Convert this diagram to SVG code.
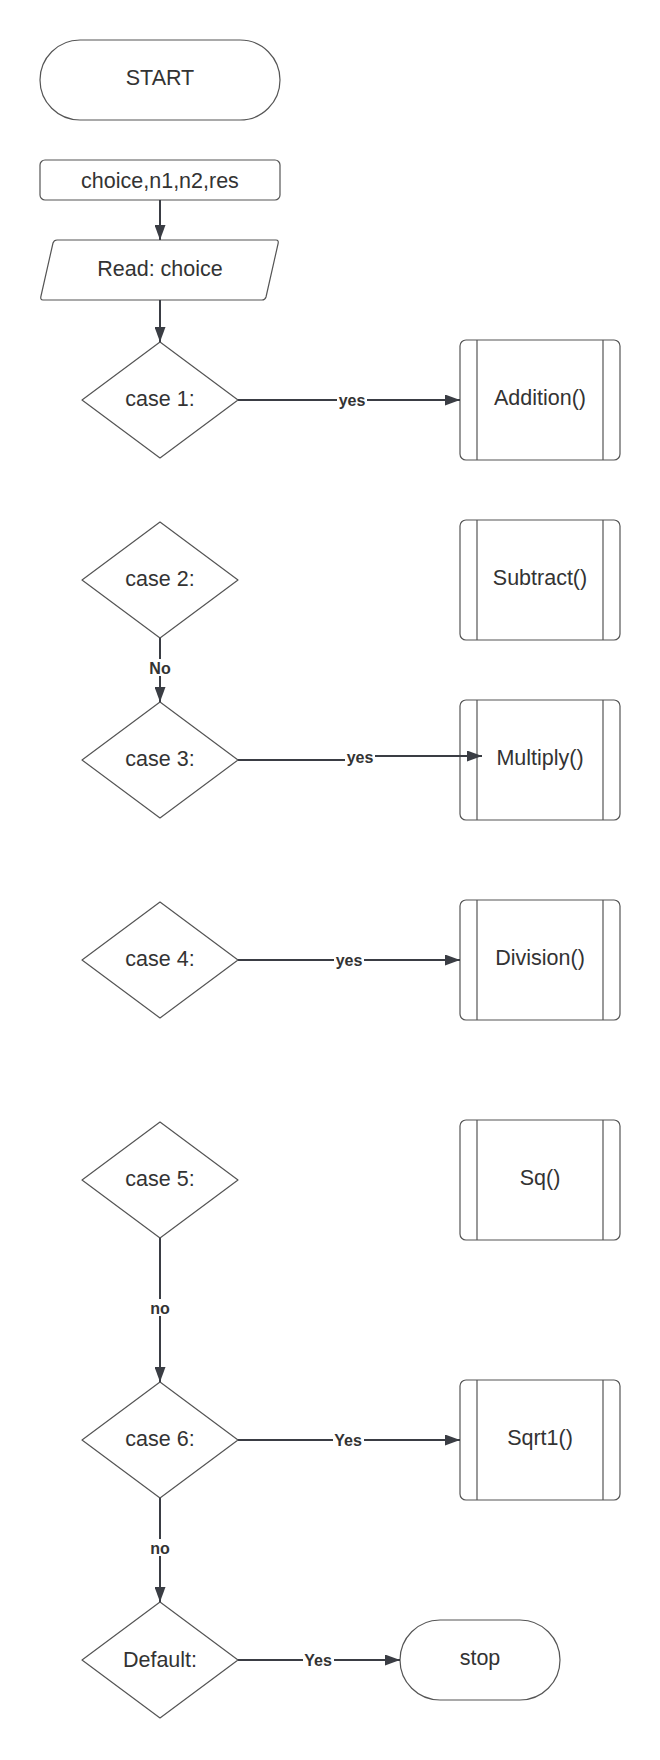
<svg xmlns="http://www.w3.org/2000/svg" width="660" height="1760" viewBox="0 0 660 1760">
<defs>
<style>
.shape{fill:#ffffff;stroke:#555555;stroke-width:1.2;stroke-linejoin:round}
.t{font-family:"Liberation Sans",Arial,sans-serif;font-size:21.5px;fill:#333333;text-anchor:middle}
.conn{fill:none;stroke:#3a3d44;stroke-width:2}
.lbl{font-family:"Liberation Sans",Arial,sans-serif;font-size:16px;font-weight:bold;fill:#333333;text-anchor:middle}
.bg{fill:#ffffff}
</style>
<marker id="arr" markerUnits="userSpaceOnUse" markerWidth="15" markerHeight="11" refX="15" refY="5.5" orient="auto">
<path d="M0,0 L15,5.5 L0,11 z" fill="#3a3d44"/>
</marker>
</defs>
<rect width="660" height="1760" fill="#ffffff"/>

<g id="start">
<rect class="shape" x="40" y="40" width="240" height="80" rx="40" ry="40"/>
<text class="t" x="160" y="85">START</text>
</g>
<g id="vars">
<rect class="shape" x="40" y="160" width="240" height="40" rx="5" ry="5"/>
<text class="t" x="160" y="188">choice,n1,n2,res</text>
</g>
<g id="read">
<path class="shape" d="M57,240 H276 Q279,240 278,244 L266,297 Q265,300 262,300 H43 Q40,300 41,296 L53,243 Q54,240 57,240 Z"/>
<text class="t" x="160" y="276">Read: choice</text>
</g>

<g id="case1">
<path class="shape" d="M160,342 L238,400 L160,458 L82,400 Z"/>
<text class="t" x="160" y="406">case 1:</text>
</g>
<g id="case2">
<path class="shape" d="M160,522 L238,580 L160,638 L82,580 Z"/>
<text class="t" x="160" y="586">case 2:</text>
</g>
<g id="case3">
<path class="shape" d="M160,702 L238,760 L160,818 L82,760 Z"/>
<text class="t" x="160" y="766">case 3:</text>
</g>
<g id="case4">
<path class="shape" d="M160,902 L238,960 L160,1018 L82,960 Z"/>
<text class="t" x="160" y="966">case 4:</text>
</g>
<g id="case5">
<path class="shape" d="M160,1122 L238,1180 L160,1238 L82,1180 Z"/>
<text class="t" x="160" y="1186">case 5:</text>
</g>
<g id="case6">
<path class="shape" d="M160,1382 L238,1440 L160,1498 L82,1440 Z"/>
<text class="t" x="160" y="1446">case 6:</text>
</g>
<g id="default">
<path class="shape" d="M160,1602 L238,1660 L160,1718 L82,1660 Z"/>
<text class="t" x="160" y="1667">Default:</text>
</g>

<g id="addition">
<rect class="shape" x="460" y="340" width="160" height="120" rx="6" ry="6"/>
<path class="shape" d="M477,340 V460 M603,340 V460"/>
<text class="t" x="540" y="405">Addition()</text>
</g>
<g id="subtract">
<rect class="shape" x="460" y="520" width="160" height="120" rx="6" ry="6"/>
<path class="shape" d="M477,520 V640 M603,520 V640"/>
<text class="t" x="540" y="585">Subtract()</text>
</g>
<g id="multiply">
<rect class="shape" x="460" y="700" width="160" height="120" rx="6" ry="6"/>
<path class="shape" d="M477,700 V820 M603,700 V820"/>
<text class="t" x="540" y="765">Multiply()</text>
</g>
<g id="division">
<rect class="shape" x="460" y="900" width="160" height="120" rx="6" ry="6"/>
<path class="shape" d="M477,900 V1020 M603,900 V1020"/>
<text class="t" x="540" y="965">Division()</text>
</g>
<g id="sq">
<rect class="shape" x="460" y="1120" width="160" height="120" rx="6" ry="6"/>
<path class="shape" d="M477,1120 V1240 M603,1120 V1240"/>
<text class="t" x="540" y="1185">Sq()</text>
</g>
<g id="sqrt1">
<rect class="shape" x="460" y="1380" width="160" height="120" rx="6" ry="6"/>
<path class="shape" d="M477,1380 V1500 M603,1380 V1500"/>
<text class="t" x="540" y="1445">Sqrt1()</text>
</g>
<g id="stop">
<rect class="shape" x="400" y="1620" width="160" height="80" rx="40" ry="40"/>
<text class="t" x="480" y="1665">stop</text>
</g>

<g id="connectors">
<path class="conn" d="M160,200 V240" marker-end="url(#arr)"/>
<path class="conn" d="M160,300 V342" marker-end="url(#arr)"/>
<path class="conn" d="M238,400 H460" marker-end="url(#arr)"/>
<path class="conn" d="M160,638 V702" marker-end="url(#arr)"/>
<path class="conn" d="M238,760 H356 V756 H482" marker-end="url(#arr)"/>
<path class="conn" d="M238,960 H460" marker-end="url(#arr)"/>
<path class="conn" d="M160,1238 V1382" marker-end="url(#arr)"/>
<path class="conn" d="M238,1440 H460" marker-end="url(#arr)"/>
<path class="conn" d="M160,1498 V1602" marker-end="url(#arr)"/>
<path class="conn" d="M238,1660 H400" marker-end="url(#arr)"/>
<rect class="bg" x="337" y="391" width="30" height="17"/>
<text class="lbl" x="352" y="406">yes</text>
<rect class="bg" x="149" y="659" width="22" height="17"/>
<text class="lbl" x="160" y="674">No</text>
<rect class="bg" x="345" y="749" width="30" height="17"/>
<text class="lbl" x="360" y="763">yes</text>
<rect class="bg" x="334" y="951" width="30" height="17"/>
<text class="lbl" x="349" y="966">yes</text>
<rect class="bg" x="149" y="1299" width="22" height="17"/>
<text class="lbl" x="160" y="1314">no</text>
<rect class="bg" x="333" y="1431" width="31" height="17"/>
<text class="lbl" x="348" y="1446">Yes</text>
<rect class="bg" x="149" y="1539" width="22" height="17"/>
<text class="lbl" x="160" y="1554">no</text>
<rect class="bg" x="303" y="1651" width="31" height="17"/>
<text class="lbl" x="318" y="1666">Yes</text>
</g>
</svg>
